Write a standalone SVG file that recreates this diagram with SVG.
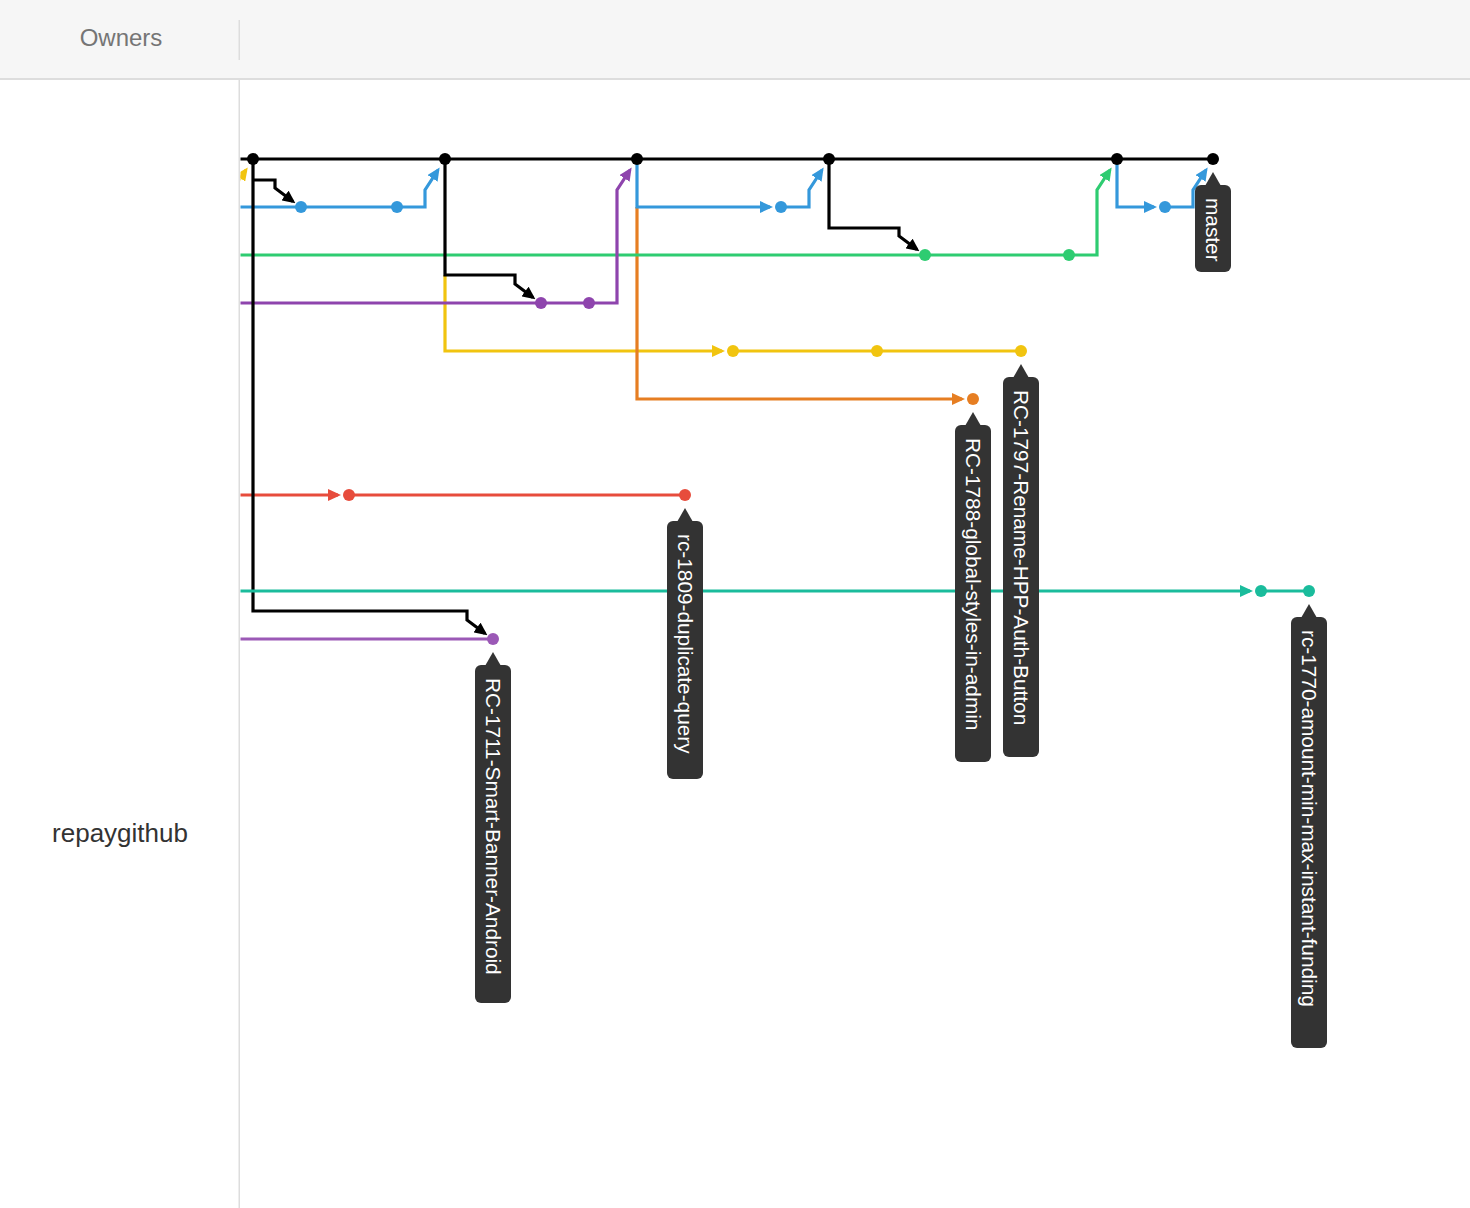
<svg xmlns="http://www.w3.org/2000/svg" width="1470" height="1208" viewBox="0 0 1470 1208">
<style>
.ln{fill:none;stroke-width:3.2;stroke-linejoin:miter}
.k{stroke:#000}.bl{stroke:#3498db}.gr{stroke:#2ecc71}.pu{stroke:#8e44ad}.ye{stroke:#f1c40f}.or{stroke:#e67e22}.re{stroke:#e74c3c}.te{stroke:#1abc9c}.pl{stroke:#9b59b6}
.lbl rect,.lbl path{fill:#333}
.lbl text{fill:#fff;font-family:"Liberation Sans",Arial,sans-serif;font-size:20.8px}
.hdr{font-family:"Liberation Sans",Arial,sans-serif}
</style>
<defs>
<marker id="aK" markerUnits="userSpaceOnUse" markerWidth="13" markerHeight="12" viewBox="0 0 13 12" refX="10" refY="6" orient="auto"><path d="M0,0L13,6L0,12z" fill="#000"/></marker>
<marker id="aB" markerUnits="userSpaceOnUse" markerWidth="13" markerHeight="12" viewBox="0 0 13 12" refX="10" refY="6" orient="auto"><path d="M0,0L13,6L0,12z" fill="#3498db"/></marker>
<marker id="aG" markerUnits="userSpaceOnUse" markerWidth="13" markerHeight="12" viewBox="0 0 13 12" refX="10" refY="6" orient="auto"><path d="M0,0L13,6L0,12z" fill="#2ecc71"/></marker>
<marker id="aP" markerUnits="userSpaceOnUse" markerWidth="13" markerHeight="12" viewBox="0 0 13 12" refX="10" refY="6" orient="auto"><path d="M0,0L13,6L0,12z" fill="#8e44ad"/></marker>
<marker id="aY" markerUnits="userSpaceOnUse" markerWidth="13" markerHeight="12" viewBox="0 0 13 12" refX="10" refY="6" orient="auto"><path d="M0,0L13,6L0,12z" fill="#f1c40f"/></marker>
<marker id="aO" markerUnits="userSpaceOnUse" markerWidth="13" markerHeight="12" viewBox="0 0 13 12" refX="10" refY="6" orient="auto"><path d="M0,0L13,6L0,12z" fill="#e67e22"/></marker>
<marker id="aR" markerUnits="userSpaceOnUse" markerWidth="13" markerHeight="12" viewBox="0 0 13 12" refX="10" refY="6" orient="auto"><path d="M0,0L13,6L0,12z" fill="#e74c3c"/></marker>
<marker id="aT" markerUnits="userSpaceOnUse" markerWidth="13" markerHeight="12" viewBox="0 0 13 12" refX="10" refY="6" orient="auto"><path d="M0,0L13,6L0,12z" fill="#1abc9c"/></marker>
<clipPath id="graph"><rect x="240.5" y="80" width="1230" height="1128"/></clipPath>
</defs>
<rect x="0" y="0" width="1470" height="1208" fill="#fff"/>
<g id="header">
<rect x="0" y="0" width="1470" height="78" fill="#f6f6f6"/>
<rect x="0" y="78" width="1470" height="2" fill="#ddd"/>
<rect x="238.5" y="20" width="1.5" height="40" fill="#ddd"/>
<text class="hdr" x="121" y="46" text-anchor="middle" font-size="24" fill="#757575">Owners</text>
</g>
<g id="owner-column">
<rect x="238.5" y="80" width="1.5" height="1128" fill="#ddd"/>
<text class="hdr" x="120" y="842" text-anchor="middle" font-size="26" fill="#333">repaygithub</text>
</g>
<g id="connectors" clip-path="url(#graph)">
<path class="ln ye" d="M445 275V351H722" marker-end="url(#aY)"/>
<path class="ln ye" d="M733 351H1021"/>
<path class="ln ye" d="M232 190L246 170" marker-end="url(#aY)"/>
<path class="ln or" d="M637 207V399H962" marker-end="url(#aO)"/>
<path class="ln bl" d="M240 207H425V190L438 170" marker-end="url(#aB)"/>
<path class="ln bl" d="M637 159V207H770" marker-end="url(#aB)"/>
<path class="ln bl" d="M781 207H809V190L822 170" marker-end="url(#aB)"/>
<path class="ln bl" d="M1117 159V207H1154" marker-end="url(#aB)"/>
<path class="ln bl" d="M1165 207H1193V190L1206 170" marker-end="url(#aB)"/>
<path class="ln gr" d="M240 255H1097V190L1110 170" marker-end="url(#aG)"/>
<path class="ln pu" d="M240 303H617V190L630 170" marker-end="url(#aP)"/>
<path class="ln re" d="M240 495H338" marker-end="url(#aR)"/>
<path class="ln re" d="M349 495H685"/>
<path class="ln pl" d="M240 639H493"/>
<path class="ln k" d="M240 159H1213"/>
<path class="ln k" d="M253 159V611H467V620L485 633.5" marker-end="url(#aK)"/>
<path class="ln k" d="M253 180H275V188L293 201.5" marker-end="url(#aK)"/>
<path class="ln k" d="M445 159V275H515V284L533 297.5" marker-end="url(#aK)"/>
<path class="ln k" d="M829 159V228H899V236L917 249.5" marker-end="url(#aK)"/>
<path class="ln te" d="M240 591H1250" marker-end="url(#aT)"/>
<path class="ln te" d="M1261 591H1309"/>
</g>
<g id="commits">
<g fill="#000"><circle cx="253" cy="159" r="6"/><circle cx="445" cy="159" r="6"/><circle cx="637" cy="159" r="6"/><circle cx="829" cy="159" r="6"/><circle cx="1117" cy="159" r="6"/><circle cx="1213" cy="159" r="6"/></g>
<g fill="#3498db"><circle cx="301" cy="207" r="6"/><circle cx="397" cy="207" r="6"/><circle cx="781" cy="207" r="6"/><circle cx="1165" cy="207" r="6"/></g>
<g fill="#2ecc71"><circle cx="925" cy="255" r="6"/><circle cx="1069" cy="255" r="6"/></g>
<g fill="#8e44ad"><circle cx="541" cy="303" r="6"/><circle cx="589" cy="303" r="6"/></g>
<g fill="#f1c40f"><circle cx="733" cy="351" r="6"/><circle cx="877" cy="351" r="6"/><circle cx="1021" cy="351" r="6"/></g>
<g fill="#e67e22"><circle cx="973" cy="399" r="6"/></g>
<g fill="#e74c3c"><circle cx="349" cy="495" r="6"/><circle cx="685" cy="495" r="6"/></g>
<g fill="#1abc9c"><circle cx="1261" cy="591" r="6"/><circle cx="1309" cy="591" r="6"/></g>
<g fill="#9b59b6"><circle cx="493" cy="639" r="6"/></g>
</g>
<g id="label-master" class="lbl">
<path d="M1213 172L1205 186H1221z"/>
<rect x="1195" y="185" width="36" height="87" rx="6"/>
<text transform="translate(1213 198) rotate(90)" y="7">master</text>
</g>
<g id="label-RC-1797" class="lbl">
<path d="M1021 364L1013 378H1029z"/>
<rect x="1003" y="377" width="36" height="380" rx="6"/>
<text transform="translate(1021 390) rotate(90)" y="7">RC-1797-Rename-HPP-Auth-Button</text>
</g>
<g id="label-RC-1788" class="lbl">
<path d="M973 412L965 426H981z"/>
<rect x="955" y="425" width="36" height="337" rx="6"/>
<text transform="translate(973 438) rotate(90)" y="7">RC-1788-global-styles-in-admin</text>
</g>
<g id="label-rc-1809" class="lbl">
<path d="M685 508L677 522H693z"/>
<rect x="667" y="521" width="36" height="258" rx="6"/>
<text transform="translate(685 534) rotate(90)" y="7">rc-1809-duplicate-query</text>
</g>
<g id="label-RC-1711" class="lbl">
<path d="M493 652L485 666H501z"/>
<rect x="475" y="665" width="36" height="338" rx="6"/>
<text transform="translate(493 678) rotate(90)" y="7">RC-1711-Smart-Banner-Android</text>
</g>
<g id="label-rc-1770" class="lbl">
<path d="M1309 604L1301 618H1317z"/>
<rect x="1291" y="617" width="36" height="431" rx="6"/>
<text transform="translate(1309 630) rotate(90)" y="7">rc-1770-amount-min-max-instant-funding</text>
</g>
</svg>
